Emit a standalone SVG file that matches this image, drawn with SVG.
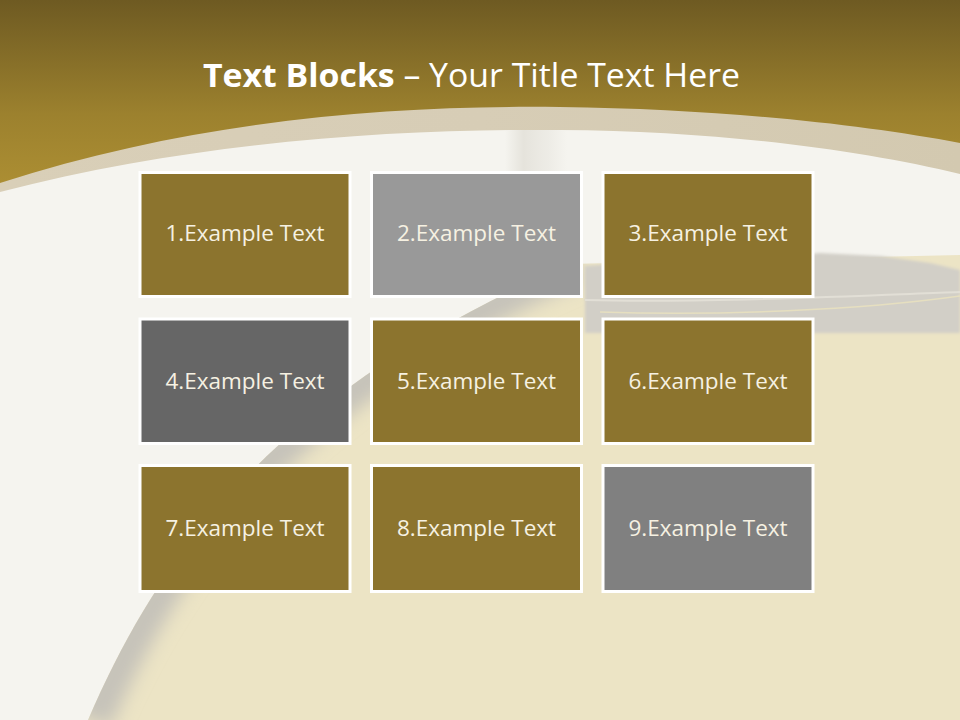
<svg xmlns="http://www.w3.org/2000/svg" width="960" height="720" viewBox="0 0 960 720">
  <style>
    .box { stroke: #FFFFFF; stroke-width: 3; }
    .gold { fill: #8C742E; }
    .g1 { fill: #999999; }
    .g2 { fill: #666666; }
    .g3 { fill: #808080; }
    .lbl { font-family: "Open Sans", "Noto Sans", "Liberation Sans", sans-serif; font-size: 22.5px; fill: #F6F1E2; text-anchor: middle; }
    .title { font-family: "Open Sans", "Noto Sans", "Liberation Sans", sans-serif; font-size: 32px; fill: #FFFFFF; }
  </style>
  <defs>
    <linearGradient id="goldGrad" x1="0" y1="0" x2="0" y2="190" gradientUnits="userSpaceOnUse">
      <stop offset="0" stop-color="#6E5A22"/>
      <stop offset="0.6" stop-color="#9C812E"/>
      <stop offset="1" stop-color="#AD8F33"/>
    </linearGradient>
    <linearGradient id="tanGrad" x1="0" y1="0" x2="1" y2="0">
      <stop offset="0" stop-color="#D9CFB8"/>
      <stop offset="0.5" stop-color="#D7CDB6"/>
      <stop offset="1" stop-color="#D3C9B0"/>
    </linearGradient>
    <linearGradient id="glass" x1="0" y1="0" x2="1" y2="0">
      <stop offset="0" stop-color="#C8C4B8" stop-opacity="0"/>
      <stop offset="0.3" stop-color="#C8C4B8" stop-opacity="0.35"/>
      <stop offset="0.7" stop-color="#D6D3CA" stop-opacity="0.25"/>
      <stop offset="1" stop-color="#D6D3CA" stop-opacity="0"/>
    </linearGradient>
    <filter id="blur6" x="-20%" y="-20%" width="140%" height="140%">
      <feGaussianBlur stdDeviation="9"/>
    </filter>
    <filter id="blur2" x="-20%" y="-20%" width="140%" height="140%">
      <feGaussianBlur stdDeviation="1.5"/>
    </filter>
    <clipPath id="cupClip">
      <path d="M 88 720 C 165 540, 290 385, 570 264 L 960 255 L 960 720 Z"/>
    </clipPath>
  </defs>

  <!-- background -->
  <rect x="0" y="0" width="960" height="720" fill="#F5F4EF"/>
  <!-- cup body -->
  <path d="M 88 720 C 165 540, 290 385, 570 264 L 960 255 L 960 720 Z" fill="#ECE4C5"/>
  <g clip-path="url(#cupClip)">
    <path d="M 92 720 C 169 540, 294 385, 574 264" fill="none" stroke="#C6C3BA" stroke-width="40" filter="url(#blur6)"/>
  </g>
  <!-- gray band on right -->
  <path d="M 585 266 L 640 262 L 700 262 L 760 258 L 820 253 L 880 256 L 930 263 L 960 270 L 960 333 L 585 333 Z" fill="#D2CFC7" filter="url(#blur2)"/>
  <path d="M 585 300 C 700 303, 850 296, 960 292" fill="none" stroke="#E2DFD6" stroke-width="2"/>
  <path d="M 600 312 C 720 316, 860 310, 960 296" fill="none" stroke="#E6DFC0" stroke-width="1.5"/>
  <!-- glass streak -->
  <rect x="505" y="128" width="62" height="140" fill="url(#glass)"/>

  <!-- tan band -->
  <path d="M 0 0 L 960 0 L 960 174 C 860 150, 720 131, 560 130 C 400 129, 200 140, 0 192 Z" fill="url(#tanGrad)"/>
  <!-- gold header -->
  <path d="M 0 0 L 960 0 L 960 143 C 860 124, 720 109, 560 107 C 400 105, 200 118, 0 183 Z" fill="url(#goldGrad)"/>

  <text class="title" x="203" y="87" textLength="537" lengthAdjust="spacingAndGlyphs"><tspan font-weight="bold">Text Blocks</tspan> – Your Title Text Here</text>

  <g id="node1"><rect class="box gold" x="140" y="172.5" width="210" height="124"/><text class="lbl" x="245" y="241">1.Example Text</text></g>
  <g id="node2"><rect class="box g1" x="371.5" y="172.5" width="210" height="124"/><text class="lbl" x="476.5" y="241">2.Example Text</text></g>
  <g id="node3"><rect class="box gold" x="603" y="172.5" width="210" height="124"/><text class="lbl" x="708" y="241">3.Example Text</text></g>
  <g id="node4"><rect class="box g2" x="140" y="319" width="210" height="124.5"/><text class="lbl" x="245" y="389">4.Example Text</text></g>
  <g id="node5"><rect class="box gold" x="371.5" y="319" width="210" height="124.5"/><text class="lbl" x="476.5" y="389">5.Example Text</text></g>
  <g id="node6"><rect class="box gold" x="603" y="319" width="210" height="124.5"/><text class="lbl" x="708" y="389">6.Example Text</text></g>
  <g id="node7"><rect class="box gold" x="140" y="465.5" width="210" height="126"/><text class="lbl" x="245" y="536">7.Example Text</text></g>
  <g id="node8"><rect class="box gold" x="371.5" y="465.5" width="210" height="126"/><text class="lbl" x="476.5" y="536">8.Example Text</text></g>
  <g id="node9"><rect class="box g3" x="603" y="465.5" width="210" height="126"/><text class="lbl" x="708" y="536">9.Example Text</text></g>
  <g id="connectors"/>
</svg>
